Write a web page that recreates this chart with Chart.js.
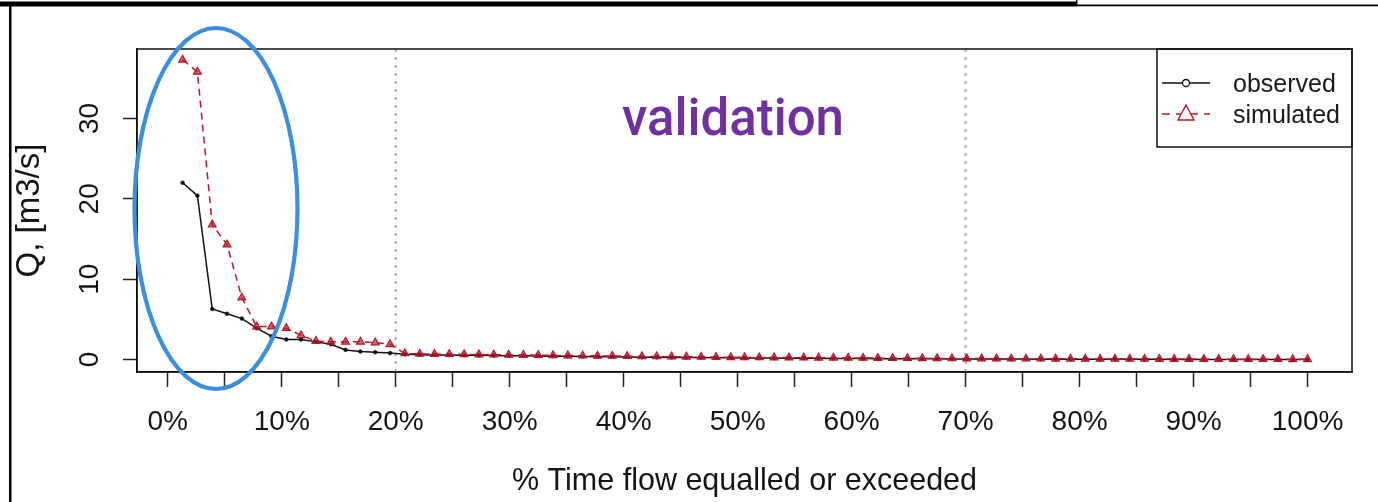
<!DOCTYPE html>
<html><head><meta charset="utf-8">
<script src="https://cdn.jsdelivr.net/npm/chart.js@4.4.1/dist/chart.umd.min.js"></script>
<style>html,body{margin:0;padding:0;background:#fff;overflow:hidden}canvas{display:block}</style>
</head><body>
<canvas id="c" width="1378" height="502"></canvas>
<script>
// ---- data ----
const exceedancePct = [
  1.3,2.6,3.9,5.2,6.5,7.8,9.1,10.4,11.7,13.0,
  14.3,15.6,16.9,18.2,19.5,20.8,22.1,23.4,24.7,26.0,
  27.3,28.6,29.9,31.2,32.5,33.8,35.1,36.4,37.7,39.0,
  40.3,41.6,42.9,44.2,45.5,46.8,48.1,49.4,50.6,51.9,
  53.2,54.5,55.8,57.1,58.4,59.7,61.0,62.3,63.6,64.9,
  66.2,67.5,68.8,70.1,71.4,72.7,74.0,75.3,76.6,77.9,
  79.2,80.5,81.8,83.1,84.4,85.7,87.0,88.3,89.6,90.9,
  92.2,93.5,94.8,96.1,97.4,98.7,100
];
const observedQ = [
  22.0,20.4,6.3,5.7,5.1,3.9,2.9,2.5,2.5,2.2,
  1.9,1.2,1.0,0.9,0.8,0.65,
  0.6,0.58,0.56,0.54,0.52,0.5,0.48,0.46,0.44,0.42,
  0.4,0.38,0.36,0.34,0.32,0.3,0.28,0.26,0.25,0.24,
  0.22,0.21,0.2,0.19,0.18,0.17,0.16,0.15,0.14,0.13,
  0.12,0.11,0.1,0.1,0.09,0.09,0.08,0.08,0.07,0.07,
  0.06,0.06,0.05,0.05,0.05,0.04,0.04,0.04,0.03,0.03,
  0.03,0.02,0.02,0.02,0.02,0.01,0.01,0.01,0.01,0.0,0.0
];
const simulatedQ = [
  37.3,35.8,16.8,14.3,7.7,4.1,4.1,3.9,3.0,2.3,
  2.2,2.2,2.2,2.1,1.9,0.75,
  0.7,0.68,0.66,0.64,0.62,0.6,0.58,0.56,0.54,0.52,
  0.5,0.48,0.46,0.44,0.42,0.4,0.38,0.36,0.34,0.32,
  0.3,0.28,0.27,0.26,0.25,0.24,0.23,0.22,0.21,0.2,
  0.19,0.18,0.17,0.16,0.15,0.14,0.13,0.12,0.12,0.11,
  0.11,0.1,0.1,0.09,0.09,0.08,0.08,0.07,0.07,0.07,
  0.06,0.06,0.06,0.05,0.05,0.05,0.04,0.04,0.04,0.03,0.03
];
const seriesNames = ['observed', 'simulated'];
const refLinePct = [20, 70];
const xTickValues = [0,5,10,15,20,25,30,35,40,45,50,55,60,65,70,75,80,85,90,95,100];
const xTickLabels = ['0%','','10%','','20%','','30%','','40%','','50%','','60%','','70%','','80%','','90%','','100%'];
const yTickValues = [0, 10, 20, 30];
const yTickLabels = ['0', '10', '20', '30'];
const xTitle = '% Time flow equalled or exceeded';
const yTitle = 'Q, [m3/s]';
const noteText = 'validation';

// ---- axis limits ----
const X_MIN = -2.7, X_MAX = 103.9;
const Y_MIN = -1.55, Y_MAX = 38.65;

const FONT = "'Liberation Sans', Arial, sans-serif";
const RED = '#b3192b';

const toXY = (ys) => exceedancePct.map((x, i) => ({x: x, y: ys[i]}));

const datasets = [
  {
    label: seriesNames[0], data: toXY(observedQ), order: 1,
    borderColor: '#111', borderWidth: 1.5, tension: 0,
    pointStyle: 'circle', pointRadius: 1.8, pointBackgroundColor: '#111', pointBorderColor: '#111', pointBorderWidth: 0.8
  },
  {
    label: seriesNames[1], data: toXY(simulatedQ), order: 0,
    borderColor: RED, borderWidth: 1.5, borderDash: [7, 5], tension: 0,
    pointStyle: 'triangle', pointRadius: 4.5, pointBackgroundColor: 'rgba(185,25,40,0.65)', pointBorderColor: RED, pointBorderWidth: 1.2
  }
];
refLinePct.forEach(p => datasets.push({
  label: 'ref' + p, data: [{x: p, y: Y_MIN}, {x: p, y: Y_MAX}], order: 5,
  borderColor: '#b9b9b9', borderWidth: 2.5, borderDash: [3, 5], pointRadius: 0, tension: 0
}));

const decor = {
  id: 'decor',
  afterDraw(chart) {
    const ctx = chart.ctx, a = chart.chartArea;
    ctx.save();
    // page frame lines
    ctx.fillStyle = '#000';
    ctx.fillRect(0, 1.5, 1077, 5);
    ctx.fillRect(1077, 4.5, 301, 1.8);
    ctx.fillRect(1076, 0, 1.5, 6);
    ctx.fillRect(9, 5, 2.5, 497);
    // plot box
    ctx.strokeStyle = '#111';
    ctx.lineWidth = 1.5;
    ctx.strokeRect(a.left, a.top, a.right - a.left, a.bottom - a.top);
    // annotation text
    ctx.fillStyle = '#7030a0';
    ctx.font = "500 51px Roboto, 'Open Sans', sans-serif";
    ctx.textAlign = 'center';
    ctx.textBaseline = 'alphabetic';
    ctx.fillText(noteText, 733, 135);
    // legend
    const lx = 1157, ly = a.top, lw = a.right - 1157, lh = 98;
    ctx.strokeStyle = '#111';
    ctx.lineWidth = 1.5;
    ctx.strokeRect(lx, ly, lw, lh);
    const rows = [83, 114];
    // observed sample
    ctx.beginPath(); ctx.moveTo(1162, rows[0]); ctx.lineTo(1210, rows[0]); ctx.stroke();
    ctx.beginPath(); ctx.arc(1186, rows[0], 3.5, 0, Math.PI * 2);
    ctx.fillStyle = '#fff'; ctx.fill(); ctx.lineWidth = 1.3; ctx.stroke();
    // simulated sample
    ctx.strokeStyle = RED; ctx.lineWidth = 1.5;
    ctx.setLineDash([8, 6]);
    ctx.beginPath(); ctx.moveTo(1162, rows[1]); ctx.lineTo(1210, rows[1]); ctx.stroke();
    ctx.setLineDash([]);
    ctx.beginPath();
    ctx.moveTo(1186, rows[1] - 9); ctx.lineTo(1194, rows[1] + 6); ctx.lineTo(1178, rows[1] + 6); ctx.closePath();
    ctx.fillStyle = '#fff'; ctx.fill(); ctx.lineWidth = 1.4; ctx.stroke();
    ctx.fillStyle = '#1a1a1a';
    ctx.font = '25px ' + FONT;
    ctx.textAlign = 'left';
    ctx.textBaseline = 'middle';
    ctx.fillText(chart.data.datasets[0].label, 1233, rows[0] + 2);
    ctx.fillText(chart.data.datasets[1].label, 1233, rows[1] + 2);
    // ellipse highlight
    ctx.strokeStyle = '#3d8fdd';
    ctx.lineWidth = 4.2;
    ctx.beginPath();
    ctx.ellipse(216, 208.5, 81.5, 180.5, 0, 0, Math.PI * 2);
    ctx.stroke();
    ctx.restore();
  }
};

new Chart(document.getElementById('c'), {
  type: 'line',
  data: { datasets: datasets },
  options: {
    responsive: false, animation: false, devicePixelRatio: 1,
    layout: { padding: { top: 49, right: 26, left: 0, bottom: 0 } },
    plugins: { legend: { display: false }, tooltip: { enabled: false } },
    scales: {
      x: {
        type: 'linear', min: X_MIN, max: X_MAX,
        afterBuildTicks: s => { s.ticks = xTickValues.map(v => ({value: v})); },
        afterFit: s => { s.height = 130; },
        ticks: {
          autoSkip: false, maxRotation: 0, minRotation: 0, padding: 18,
          color: '#151515', font: { family: FONT, size: 28 },
          callback: (v) => { const i = xTickValues.indexOf(v); return i >= 0 ? xTickLabels[i] : ''; }
        },
        grid: { drawOnChartArea: false, drawTicks: true, tickLength: 15, tickColor: '#222', tickWidth: 1.5 },
        border: { display: true, color: '#111', width: 1.5 },
        title: { display: true, text: xTitle, color: '#151515', font: { family: FONT, size: 30.5, lineHeight: 1 }, padding: { top: 0, bottom: 5 } }
      },
      y: {
        type: 'linear', min: Y_MIN, max: Y_MAX,
        afterBuildTicks: s => { s.ticks = yTickValues.map(v => ({value: v})); },
        afterFit: s => { s.width = 137; },
        ticks: {
          autoSkip: false, minRotation: 90, maxRotation: 90, crossAlign: 'center', padding: 17,
          color: '#151515', font: { family: FONT, size: 28 },
          callback: (v) => { const i = yTickValues.indexOf(v); return i >= 0 ? yTickLabels[i] : ''; }
        },
        grid: { drawOnChartArea: false, drawTicks: true, tickLength: 14, tickColor: '#222', tickWidth: 1.5 },
        border: { display: true, color: '#111', width: 1.5 },
        title: { display: true, text: yTitle, color: '#151515', font: { family: FONT, size: 33, lineHeight: 1 }, padding: { top: 13, bottom: 0 } }
      }
    }
  },
  plugins: [decor]
});
</script>
</body></html>
